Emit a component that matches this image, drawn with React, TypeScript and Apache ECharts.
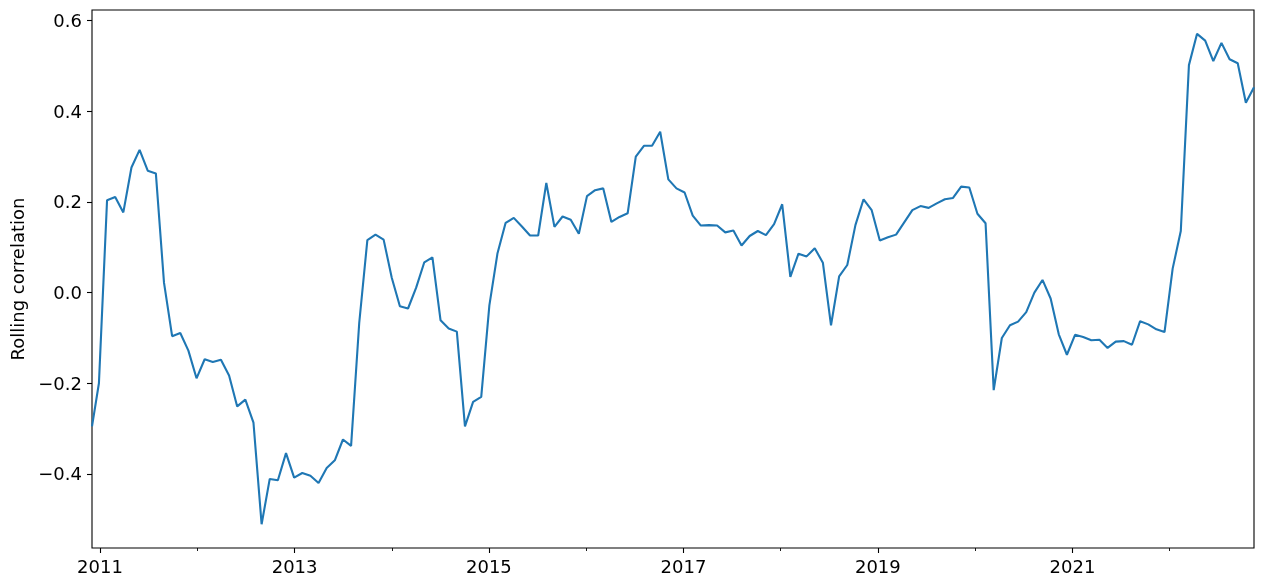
import React, { useEffect, useRef } from "react";
import * as echarts from "echarts";

// Observation timing: first observation, then regular sampling
const firstObservation = Date.UTC(2010, 11, 2);
const regularStart = Date.UTC(2010, 11, 28);
const stepDays = 30.556;

// Rolling correlation values
const correlation: number[] = [
  -0.295, -0.200, 0.204, 0.211, 0.177, 0.276, 0.315, 0.269, 0.263, 0.022,
  -0.096, -0.089, -0.128, -0.189, -0.147, -0.153, -0.148, -0.183, -0.251, -0.236,
  -0.287, -0.511, -0.411, -0.414, -0.354, -0.408, -0.398, -0.404, -0.420, -0.387,
  -0.370, -0.324, -0.338, -0.067, 0.116, 0.128, 0.117, 0.033, -0.030, -0.035,
  0.011, 0.067, 0.078, -0.061, -0.079, -0.086, -0.295, -0.241, -0.230, -0.028,
  0.087, 0.154, 0.165, 0.146, 0.126, 0.126, 0.242, 0.145, 0.168, 0.161,
  0.130, 0.213, 0.226, 0.230, 0.156, 0.167, 0.175, 0.300, 0.324, 0.324,
  0.355, 0.250, 0.230, 0.221, 0.170, 0.148, 0.149, 0.148, 0.133, 0.137,
  0.104, 0.125, 0.136, 0.127, 0.151, 0.195, 0.035, 0.086, 0.080, 0.098,
  0.066, -0.072, 0.036, 0.061, 0.149, 0.206, 0.182, 0.115, 0.122, 0.128,
  0.155, 0.182, 0.191, 0.187, 0.197, 0.206, 0.209, 0.234, 0.232, 0.174,
  0.153, -0.215, -0.100, -0.072, -0.064, -0.043, 0.000, 0.028, -0.013, -0.092,
  -0.137, -0.093, -0.098, -0.105, -0.104, -0.122, -0.108, -0.107, -0.115, -0.063,
  -0.070, -0.081, -0.087, 0.053, 0.136, 0.502, 0.571, 0.556, 0.511, 0.551,
  0.515, 0.506, 0.419, 0.453,
];

const majorYears = [2011, 2013, 2015, 2017, 2019, 2021];
const minorYears = [2012, 2014, 2016, 2018, 2020, 2022];
const yTicks = [-0.4, -0.2, 0.0, 0.2, 0.4, 0.6];
const yMin = -0.5634;
const yMax = 0.6236;

const DAY = 86400000;
const FONT = "DejaVu Sans";

export default function App() {
  const ref = useRef<HTMLDivElement>(null);

  useEffect(() => {
    if (!ref.current) return;
    const chart = echarts.init(ref.current, undefined, { renderer: "svg" });

    const dates = correlation.map((_, i) =>
      i === 0 ? firstObservation : regularStart + (i - 1) * stepDays * DAY
    );
    const data = correlation.map((v, i) => [dates[i], v]);
    const xMin = dates[0];
    const xMax = dates[dates.length - 1];
    const yearTs = (y: number) => Date.UTC(y, 0, 1);

    chart.setOption({
      animation: false,
      grid: {
        left: 92,
        right: 10,
        top: 10,
        bottom: 39,
        show: true,
        borderColor: "#000",
        borderWidth: 1.1,
        backgroundColor: "transparent",
      },
      xAxis: [
        {
          type: "value",
          min: xMin,
          max: xMax,
          position: "bottom",
          axisLine: { show: false, onZero: false },
          splitLine: { show: false },
          axisTick: {
            show: true,
            inside: false,
            length: 5,
            lineStyle: { color: "#000", width: 1.1 },
            customValues: majorYears.map(yearTs),
          },
          axisLabel: {
            show: true,
            customValues: majorYears.map(yearTs),
            formatter: (v: number) => String(new Date(v).getUTCFullYear()),
            fontSize: 18,
            fontFamily: FONT,
            color: "#000",
            margin: 9,
          },
        },
        {
          type: "value",
          min: xMin,
          max: xMax,
          position: "bottom",
          axisLine: { show: false, onZero: false },
          splitLine: { show: false },
          axisTick: {
            show: true,
            inside: false,
            length: 3,
            lineStyle: { color: "#000", width: 0.9 },
            customValues: minorYears.map(yearTs),
          },
          axisLabel: { show: false },
        },
      ],
      yAxis: {
        type: "value",
        min: yMin,
        max: yMax,
        name: "Rolling correlation",
        nameLocation: "middle",
        nameGap: 66,
        nameTextStyle: { fontSize: 18, fontFamily: FONT, color: "#000" },
        axisLine: { show: false, onZero: false },
        splitLine: { show: false },
        axisTick: {
          show: true,
          inside: false,
          length: 5,
          lineStyle: { color: "#000", width: 1.1 },
          customValues: yTicks,
        },
        axisLabel: {
          show: true,
          customValues: yTicks,
          formatter: (v: number) =>
            (v < -1e-9 ? "\u2212" : "") + Math.abs(v).toFixed(1),
          fontSize: 18,
          fontFamily: FONT,
          color: "#000",
          margin: 10,
        },
      },
      series: [
        {
          type: "line",
          xAxisIndex: 0,
          data,
          showSymbol: false,
          symbol: "none",
          lineStyle: { color: "#1f77b4", width: 2.1 },
          itemStyle: { color: "#1f77b4" },
          clip: true,
        },
      ],
    });

    return () => chart.dispose();
  }, []);

  return (
    <div
      ref={ref}
      style={{ position: "fixed", left: 0, top: 0, width: 1264, height: 587 }}
    />
  );
}
